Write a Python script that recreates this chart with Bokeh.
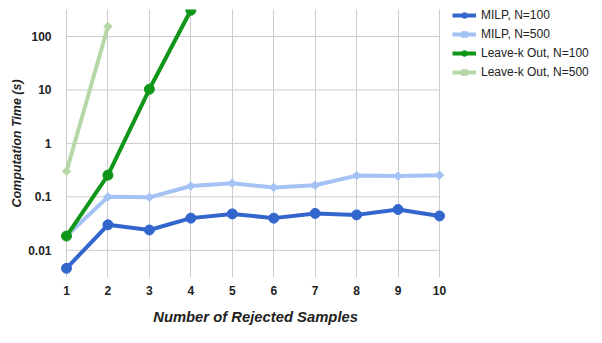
import math
from bokeh.plotting import figure
from bokeh.models import (Range1d, FixedTicker, CustomJSTickFormatter, Legend, LegendItem,
                          ColumnDataSource, Title)
from bokeh.embed import file_html
from bokeh.resources import INLINE

x_vals = [1, 2, 3, 4, 5, 6, 7, 8, 9, 10]
milp_100 = [0.0046, 0.030, 0.024, 0.040, 0.048, 0.040, 0.049, 0.046, 0.058, 0.044]
milp_500 = [0.0185, 0.100, 0.098, 0.160, 0.180, 0.150, 0.165, 0.250, 0.245, 0.255]
lko_x100 = [1, 2, 3, 4]
lko_100 = [0.0185, 0.255, 10.3, 310]
lko_x500 = [1, 2]
lko_500 = [0.30, 154]

series_names = ["MILP, N=100", "MILP, N=500", "Leave-k Out, N=100", "Leave-k Out, N=500"]
series_colors = ["#3366cc", "#a4c2f4", "#109618", "#b6d7a8"]
y_ticks = [0.01, 0.1, 1, 10, 100]

FONT = "Liberation Sans"

# frame spans from x=60px to the right edge; data x=1 at 66px, x=10 at 439px
px_per_unit = (439 - 66) / 9.0
x_start = 1 - 6 / px_per_unit
x_end = 10 + (600 - 439) / px_per_unit

p = figure(width=600, height=340, output_backend="svg", toolbar_location=None,
           y_axis_type="log",
           x_range=Range1d(x_start, x_end), y_range=Range1d(0.0031, 320),
           min_border_left=60, min_border_right=0, min_border_top=9, min_border_bottom=63)
p.outline_line_color = None
p.background_fill_color = "white"
p.border_fill_color = "white"

# horizontal grid lines only across the data area (x=1..10)
p.ygrid.grid_line_color = None
p.segment(x0=x_vals[0], x1=x_vals[-1], y0=y_ticks, y1=y_ticks,
          line_color="#cccccc", line_width=1)
p.xgrid.grid_line_color = "#cccccc"
p.xgrid.grid_line_width = 1

data = [(x_vals, milp_100), (x_vals, milp_500), (lko_x100, lko_100), (lko_x500, lko_500)]
items = []
for i, ((xs, ys), name, col) in enumerate(zip(data, series_names, series_colors)):
    src = ColumnDataSource(dict(x=xs, y=ys))
    r1 = p.line("x", "y", source=src, line_color=col, line_width=4)
    if i in (0, 2):
        r2 = p.scatter("x", "y", source=src, marker="circle", size=10,
                       fill_color=col, line_color=col)
    else:
        r2 = p.scatter("x", "y", source=src, marker="square", size=6, angle=math.pi / 4,
                       fill_color=col, line_color=col)
    items.append(LegendItem(label=name, renderers=[r1, r2]))

p.xaxis.ticker = FixedTicker(ticks=x_vals)
p.yaxis.ticker = FixedTicker(ticks=y_ticks)
p.yaxis.formatter = CustomJSTickFormatter(code="return tick.toString();")

for ax in (p.xaxis[0], p.yaxis[0]):
    ax.axis_line_color = None
    ax.major_tick_line_color = None
    ax.minor_tick_line_color = None
    ax.major_label_text_font = FONT
    ax.major_label_text_font_style = "bold"
    ax.major_label_text_font_size = "12px"
    ax.major_label_text_color = "#222222"
    ax.axis_label_text_font = FONT
    ax.axis_label_text_font_style = "bold italic"
    ax.axis_label_text_color = "#222222"

p.yaxis.axis_label = "Computation Time (s)"
p.yaxis.axis_label_text_font_size = "12.5px"
p.xaxis.major_label_standoff = 2
p.yaxis.major_label_standoff = 3
p.yaxis.axis_label_standoff = 1

xtitle = Title(text="Number of Rejected Samples", align="left", offset=92.7,
               text_font=FONT, text_font_style="bold italic", text_font_size="14.8px",
               text_color="#222222", standoff=19)
p.add_layout(xtitle, "below")

legend = Legend(items=items, location=(392, 198), orientation="vertical")
legend.border_line_color = None
legend.background_fill_alpha = 0
legend.margin = 0
legend.padding = 0
legend.spacing = 5
legend.glyph_width = 24
legend.glyph_height = 14
legend.label_height = 14
legend.label_standoff = 5
legend.label_text_font = FONT
legend.label_text_font_size = "12px"
legend.label_text_color = "#222222"
p.add_layout(legend, "center")

open("out.html", "w").write(file_html(p, INLINE))
